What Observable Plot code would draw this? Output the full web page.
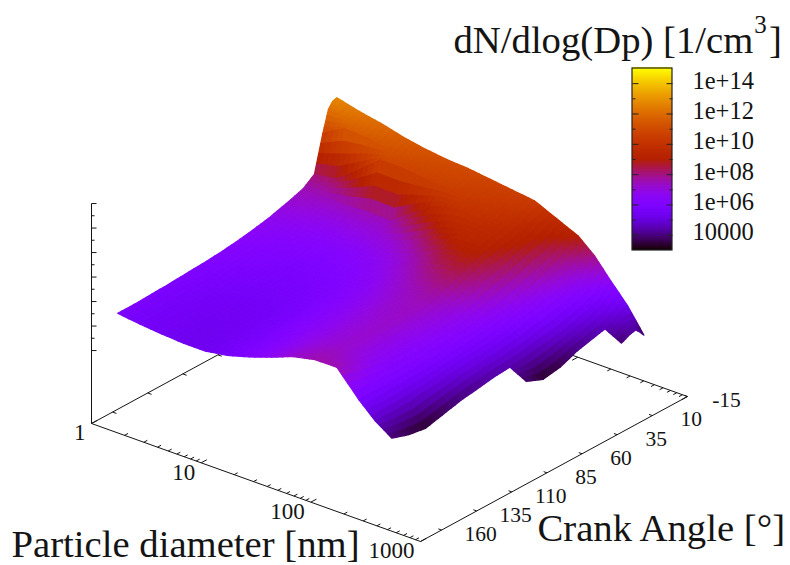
<!DOCTYPE html>
<html><head><meta charset="utf-8">
<script src="https://cdn.jsdelivr.net/npm/d3@7"></script>
<script src="https://cdn.jsdelivr.net/npm/@observablehq/plot@0.6"></script>
<style>html,body{margin:0;padding:0;background:#fff}svg{display:block}</style>
</head><body><div id="chart"></div>
<script>
// log10(Dp [nm]) of the grid columns
const logDp = [0,.2,.4,.6,.8,1,1.2,1.4,1.6,1.8,2,2.2,2.35,2.5,2.65,2.8];
// crank angle of the grid rows
const crank = [0,3,6,10,16,24,36,48,60,72,84,96,108,120,132,144,156];
// log10(dN/dlogDp) per crank row, one value per column; null = no data
const n = null;
const ca0   = [12.7,12.3,12.0,11.6,11.3,11.1,11.0,10.8,10.6,10.4,9.7,9.0,8.0,6.6,5.3,3.6];
const ca3   = [12.6,12.2,11.9,11.5,11.2,11.0,10.9,10.7,10.5,10.3,9.6,8.9,7.8,6.4,5.2,4.0];
const ca6   = [12.2,12.0,11.7,11.4,11.1,10.9,10.8,10.6,10.4,10.2,9.5,8.7,7.5,6.1,5.0,4.3];
const ca10  = [10.7,11.6,11.5,11.2,10.9,10.8,10.7,10.5,10.3,10.0,9.3,8.3,7.0,5.7,4.8,4.2];
const ca16  = [8.1,8.3,9.5,10.8,10.8,10.6,10.5,10.3,10.1,9.8,9.0,7.9,6.7,5.5,4.5,3.9];
const ca24  = [7.5,7.4,7.4,7.5,7.4,8.6,9.6,10,9.8,9.5,8.9,7.6,6.4,5.2,4.3,n];
const ca36  = [7.1,6.9,6.7,6.8,6.95,7.2,7.9,8.9,9.4,9.3,8.4,7.1,6.1,4.9,4.0,n];
const ca48  = [6.75,6.5,6.35,6.3,6.4,6.7,7.1,7.8,8.6,8.9,8.0,6.7,5.9,4.7,3.5,n];
const ca60  = [6.5,6.25,6.1,6.05,6.15,6.35,6.8,7.3,7.9,8.3,7.5,6.4,5.6,4.5,3.3,n];
const ca72  = [6.3,6.05,5.9,5.85,5.9,6.2,6.5,7.0,7.4,7.7,7.0,6.2,5.4,4.4,3.8,n];
const ca84  = [6.15,5.9,5.75,5.7,5.75,6.0,6.4,6.8,7.2,7.4,6.8,6.1,5.3,4.3,n,n];
const ca96  = [6.05,5.8,5.65,5.6,5.65,5.9,6.3,6.7,7.1,7.3,6.7,6.0,5.2,4.1,n,n];
const ca108 = [5.98,5.7,5.55,5.5,5.55,5.8,6.25,6.65,7.0,7.25,6.6,5.9,5.0,3.9,n,n];
const ca120 = [5.9,5.6,5.5,5.45,5.5,5.75,6.2,6.6,7.0,7.2,6.6,5.85,4.9,3.6,n,n];
const ca132 = [5.85,5.55,5.45,5.4,5.45,5.7,6.15,6.6,7.0,7.2,6.7,5.8,4.7,3.3,n,n];
const ca144 = [5.8,5.55,5.45,5.35,5.4,5.7,6.1,6.6,7.1,7.4,7.1,5.8,4.7,3.5,n,n];
const ca156 = [5.8,5.6,5.45,5.35,5.35,5.6,6.05,6.6,7.2,7.55,7.55,5.8,4.7,3.9,n,n];
const logN = [ca0,ca3,ca6,ca10,ca16,ca24,ca36,ca48,ca60,ca72,ca84,ca96,ca108,ca120,ca132,ca144,ca156];

const crankTicks = [-15,10,35,60,85,110,135,160];
const dpTicks = [1,10,100,1000];
const dpMinor = [2,3,4,5,6,7,8,9,20,30,40,50,60,70,80,90,200,300,400,500,600,700,800,900];
const zTicksLong = [14.71,12.96,11.21,9.46,7.71,5.96,4.21];
const zTicksShort = [13.84,12.09,10.34,8.59,6.84,5.09];
const cbLabels = [[14,"1e+14"],[12,"1e+12"],[10,"1e+10"],[8,"1e+08"],[6,"1e+06"],[4,"10000"]];
const cbOdd = [13,11,9,7,5];
const cbDomain = [3,15];

// gnuplot 3D view: screen position of (log Dp, crank, log N)
const sx = (d,c) => 91 + 109.67*d + 1.405*(175-c);
const sy = (d,c,L) => 423 + 39.33*d - 0.763*(175-c) - 14*(L+1);
const base = -1;
// colour-box position
const cbX0 = 632, cbX1 = 672, cbY = L => 250 - (L-3)*15.167;

// pm3d palette 7,5,15
const pm3d = t => {
  const r = Math.sqrt(t), g = t*t*t, b = Math.max(0,Math.sin(2*Math.PI*t));
  return `rgb(${Math.round(255*r)},${Math.round(255*g)},${Math.round(255*b)})`;
};

// surface facets, painted back to front; each grid cell is shaded with a
// pm3d-style bilinear gradient (drawing only, the values are the arrays above)
const sub = 4;
const facets = [];
let id = 0;
for (let j=0;j<crank.length-1;j++) for (let i=0;i<logDp.length-1;i++) {
  const a=logN[j][i],b=logN[j][i+1],c=logN[j+1][i],e=logN[j+1][i+1];
  if (a==null||b==null||c==null||e==null) continue;
  const P=(s,t)=>{
    const d=logDp[i]+(logDp[i+1]-logDp[i])*s, ca=crank[j]+(crank[j+1]-crank[j])*t;
    const L=(a*(1-s)+b*s)*(1-t)+(c*(1-s)+e*s)*t;
    return {d,ca,L};
  };
  for (let q=0;q<sub;q++) for (let p=0;p<sub;p++) {
    const A=P(p/sub,q/sub),B=P((p+1)/sub,q/sub),C=P(p/sub,(q+1)/sub),D=P((p+1)/sub,(q+1)/sub);
    const v=(A.L+B.L+C.L+D.L)/4; id++;
    facets.push({id,v,x1:sx(A.d,A.ca),y1:sy(A.d,A.ca,A.L),x2:sx(C.d,C.ca),y2:sy(C.d,C.ca,C.L)});
    facets.push({id,v,x1:sx(B.d,B.ca),y1:sy(B.d,B.ca,B.L),x2:sx(D.d,D.ca),y2:sy(D.d,D.ca,D.L)});
  }
}

const seg=(d1,c1,L1,d2,c2,L2)=>({x1:sx(d1,c1),y1:sy(d1,c1,L1),x2:sx(d2,c2),y2:sy(d2,c2,L2)});
const axisLines=[
  seg(0,175,base,3,175,base), seg(3,175,base,3,-15,base),
  seg(0,175,base,0,-15,base), seg(0,-15,base,3,-15,base),
  seg(0,175,base,0,175,14.71)
];
const ticks=[];
for (const c of crankTicks){ ticks.push(seg(2.97,c,base,3,c,base)); ticks.push(seg(0,c,base,.035,c,base)); }
for (const t of [...dpTicks,...dpMinor]){
  const d=Math.log10(t), len=dpTicks.includes(t)?4:2.5;
  ticks.push(seg(d,175,base,d,175-len,base)); ticks.push(seg(d,-15+len,base,d,-15,base));
}
const zTicks=[...zTicksLong.map(L=>({L,w:5})),...zTicksShort.map(L=>({L,w:3}))];
const cbSlices=d3.range(cbDomain[0],cbDomain[1],0.05);
const fam="Liberation Serif", ink="#141414";
const big=38.7;

const chart=Plot.plot({
  width:790,height:565,margin:0,
  x:{domain:[0,790],range:[0,790],axis:null},
  y:{domain:[0,565],range:[0,565],axis:null},
  color:{type:"linear",domain:cbDomain,interpolate:pm3d},
  marks:[
    Plot.link(axisLines,{x1:"x1",y1:"y1",x2:"x2",y2:"y2",stroke:ink,strokeWidth:1}),
    Plot.link(ticks,{x1:"x1",y1:"y1",x2:"x2",y2:"y2",stroke:ink,strokeWidth:1}),
    Plot.link(zTicks,{x1:()=>sx(0,175),x2:d=>sx(0,175)+d.w,y1:d=>sy(0,175,d.L),y2:d=>sy(0,175,d.L),stroke:ink,strokeWidth:1}),
    Plot.area(facets,{x1:"x1",y1:"y1",x2:"x2",y2:"y2",z:"id",fill:"v",stroke:"v",strokeWidth:1.2,strokeLinejoin:"round"}),
    Plot.rect(cbSlices,{x1:cbX0,x2:cbX1,y1:L=>cbY(L),y2:L=>cbY(L+0.05)-1,fill:L=>L+0.025}),
    Plot.rect([0],{x1:cbX0,x2:cbX1,y1:cbY(15),y2:cbY(3),stroke:"#222",strokeWidth:1.2,fill:"none"}),
    Plot.link(cbLabels.flatMap(([L])=>[[cbX0,cbX0+6,L],[cbX1-6,cbX1,L]]).concat(cbOdd.flatMap(L=>[[cbX0,cbX0+3,L],[cbX1-3,cbX1,L]])),
      {x1:d=>d[0],x2:d=>d[1],y1:d=>cbY(d[2]),y2:d=>cbY(d[2]),stroke:"#222",strokeWidth:1}),
    Plot.text(cbLabels,{x:692,y:d=>cbY(d[0])-3,text:d=>d[1],textAnchor:"start",fontFamily:fam,fontSize:24.5,fill:ink}),
    Plot.text(crankTicks,{x:c=>sx(3,c)+39,y:c=>sy(3,c,base)+4,text:c=>String(c),fontFamily:fam,fontSize:21.5,fill:ink}),
    Plot.text(dpTicks,{x:t=>sx(Math.log10(t),175)-6,y:t=>sy(Math.log10(t),175,base)+9.5,text:t=>String(t),textAnchor:"end",fontFamily:fam,fontSize:23,fill:ink}),
    Plot.text(["Particle diameter [nm]"],{x:11,y:556-big*.32,text:d=>d,textAnchor:"start",fontFamily:fam,fontSize:big,fill:ink}),
    Plot.text(["Crank Angle [°]"],{x:537,y:540-big*.32,text:d=>d,textAnchor:"start",fontFamily:fam,fontSize:big,fill:ink}),
    Plot.text(["dN/dlog(Dp) [1/cm"],{x:453,y:52-big*.32,text:d=>d,textAnchor:"start",fontFamily:fam,fontSize:big,fill:ink}),
    Plot.text(["3"],{x:760,y:24,text:d=>d,fontFamily:fam,fontSize:25,fill:ink}),
    Plot.text(["]"],{x:775,y:52-big*.32,text:d=>d,fontFamily:fam,fontSize:big,fill:ink})
  ]
});
document.getElementById("chart").append(chart);
</script></body></html>
